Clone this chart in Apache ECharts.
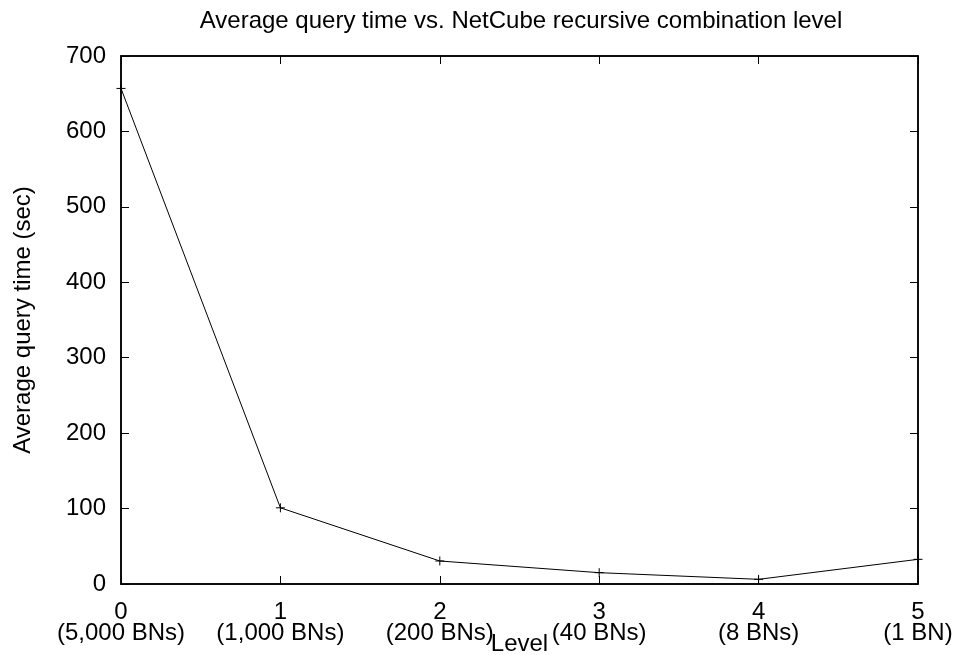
<!DOCTYPE html>
<html>
<head>
<meta charset="utf-8">
<script src="https://cdn.jsdelivr.net/npm/echarts@6/dist/echarts.min.js"></script>
<style>html,body{margin:0;padding:0;background:#fff}#c{width:953px;height:655px}</style>
</head>
<body>
<div id="c"></div>
<script>
const levels = [0, 1, 2, 3, 4, 5];
const bnLabels = ['(5,000 BNs)', '(1,000 BNs)', '(200 BNs)', '(40 BNs)', '(8 BNs)', '(1 BN)'];
const queryTime = [657, 101, 30.5, 15, 6.2, 32.7];
const yTicks = [0, 100, 200, 300, 400, 500, 600, 700];

const FONT = 'Liberation Sans, Arial, Helvetica, sans-serif';
const FS = 24;
const chart = echarts.init(document.getElementById('c'), null, {renderer: 'canvas'});
const axisLine = () => ({show: true, onZero: false, lineStyle: {color: '#000', width: 1.5}});
const tick = () => ({show: true, inside: true, length: 8, lineStyle: {color: '#000', width: 1}});
chart.setOption({
  animation: false,
  backgroundColor: '#fff',
  title: {
    text: 'Average query time vs. NetCube recursive combination level',
    left: 516, top: 4, textAlign: 'center',
    textStyle: {fontFamily: FONT, fontSize: FS, fontWeight: 'normal', color: '#000'}
  },
  grid: {left: 121, right: 35, top: 56, bottom: 71, containLabel: false, outerBoundsMode: 'none',
    show: true, borderColor: '#000', borderWidth: 1.5, backgroundColor: 'transparent'},
  xAxis: [{
    type: 'value', min: 0, max: 5, interval: 1, position: 'bottom',
    name: 'Level', nameLocation: 'middle', nameGap: 48, nameMoveOverlap: false,
    nameTextStyle: {fontFamily: FONT, fontSize: FS, color: '#000'},
    axisLine: axisLine(), axisTick: tick(), splitLine: {show: false},
    axisLabel: {
      margin: 18, fontFamily: FONT, fontSize: FS, color: '#000', lineHeight: 21,
      formatter: v => levels.indexOf(v) >= 0 ? v + '\n' + bnLabels[levels.indexOf(v)] : ''
    }
  }, {
    type: 'value', min: 0, max: 5, interval: 1, position: 'top',
    axisLine: axisLine(), axisTick: tick(), splitLine: {show: false}, axisLabel: {show: false}
  }],
  yAxis: [{
    type: 'value', min: yTicks[0], max: yTicks[yTicks.length - 1], interval: 100, position: 'left',
    name: 'Average query time (sec)', nameLocation: 'middle', nameGap: 86, nameMoveOverlap: false,
    nameTextStyle: {fontFamily: FONT, fontSize: FS, color: '#000'},
    axisLine: axisLine(), axisTick: tick(), splitLine: {show: false},
    axisLabel: {margin: 15, fontFamily: FONT, fontSize: FS, color: '#000'}
  }, {
    type: 'value', min: yTicks[0], max: yTicks[yTicks.length - 1], interval: 100, position: 'right',
    axisLine: axisLine(), axisTick: tick(), splitLine: {show: false}, axisLabel: {show: false}
  }],
  series: [{
    type: 'line',
    xAxisIndex: 0, yAxisIndex: 0,
    data: levels.map((l, i) => [l, queryTime[i]]),
    symbol: 'path://M0,5L10,5M5,0L5,10',
    symbolSize: 9,
    showAllSymbol: true,
    clip: false,
    itemStyle: {color: '#000', borderColor: '#000', borderWidth: 1},
    lineStyle: {color: '#000', width: 1}
  }, {
    type: 'line', xAxisIndex: 1, yAxisIndex: 1, data: [], silent: true
  }]
});
</script>
</body>
</html>
